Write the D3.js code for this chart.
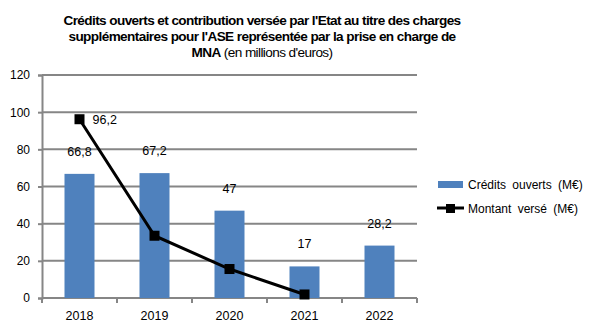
<!DOCTYPE html>
<html lang="fr">
<head>
<meta charset="UTF-8">
<script src="https://cdn.jsdelivr.net/npm/d3@7"></script>
<style>
    body { margin: 0; background: #fff; }
    svg { display: block; font-family: "Liberation Sans", Arial, sans-serif; }
</style>
</head>
<body>
<svg id="chart" width="600" height="329"></svg>
<script>
    const years = ["2018", "2019", "2020", "2021", "2022"];
    const credits = [66.8, 67.2, 47, 17, 28.2];
    const montant = [96.2, 33.5, 15.6, 1.9, null];
    const yTicks = [0, 20, 40, 60, 80, 100, 120];

    const svg = d3.select("#chart");
    const margin = { left: 42, right: 183, top: 75, bottom: 31 };
    const width = 600, height = 329;

    const x = d3.scaleBand().domain(years)
        .range([margin.left, width - margin.right]);
    const y = d3.scaleLinear().domain([0, 120])
        .range([height - margin.bottom, margin.top]);

    // title
    const title = svg.append("text")
        .attr("text-anchor", "middle")
        .attr("font-size", 13.6)
        .attr("font-weight", "bold")
        .attr("letter-spacing", -0.6);
    const titleLines = [
        "Crédits ouverts et contribution versée par l'Etat au titre des charges",
        "supplémentaires pour l'ASE représentée par la prise en charge de"
    ];
    titleLines.forEach((t, i) => {
        title.append("tspan").attr("x", 262).attr("y", 25 + i * 16).text(t);
    });
    const last = svg.append("text")
        .attr("text-anchor", "middle")
        .attr("x", 262).attr("y", 57)
        .attr("font-size", 13.6)
        .attr("letter-spacing", -0.6);
    last.append("tspan").attr("font-weight", "bold").text("MNA");
    last.append("tspan").text(" (en millions d'euros)");

    // gridlines
    svg.append("g").selectAll("line")
        .data(yTicks)
        .join("line")
        .attr("x1", margin.left).attr("x2", width - margin.right)
        .attr("y1", d => y(d)).attr("y2", d => y(d))
        .attr("stroke", "#868686")
        .attr("stroke-width", 2);

    // y axis
    const yAxis = svg.append("g")
        .attr("transform", `translate(${margin.left},0)`)
        .call(d3.axisLeft(y).tickValues(yTicks).tickSize(4).tickPadding(8));
    yAxis.select(".domain").attr("stroke", "#868686").attr("stroke-width", 2);
    yAxis.selectAll(".tick line").attr("stroke", "#868686").attr("stroke-width", 2);
    yAxis.selectAll("text").attr("font-size", 12).attr("font-family", "Liberation Sans, Arial").attr("fill", "#000");

    // x axis ticks between categories
    const xAxis = svg.append("g")
        .attr("transform", `translate(0,${y(0)})`);
    const bounds = years.map(d => x(d)).concat([x.range()[1]]);
    xAxis.selectAll("line")
        .data(bounds)
        .join("line")
        .attr("x1", d => d).attr("x2", d => d)
        .attr("y1", 0).attr("y2", 5)
        .attr("stroke", "#868686").attr("stroke-width", 2);
    xAxis.selectAll("text")
        .data(years)
        .join("text")
        .attr("x", d => x(d) + x.bandwidth() / 2)
        .attr("y", 22)
        .attr("text-anchor", "middle")
        .attr("font-size", 12.5)
        .text(d => d);

    // bars
    const barW = 30;
    svg.append("g").selectAll("rect")
        .data(credits)
        .join("rect")
        .attr("x", (d, i) => x(years[i]) + x.bandwidth() / 2 - barW / 2)
        .attr("y", d => y(d))
        .attr("width", barW)
        .attr("height", d => y(0) - y(d))
        .attr("fill", "#4f81bd");

    svg.append("g").selectAll("text")
        .data(credits)
        .join("text")
        .attr("x", (d, i) => x(years[i]) + x.bandwidth() / 2)
        .attr("y", d => y(d) - 18)
        .attr("text-anchor", "middle")
        .attr("font-size", 12.5)
        .text(d => String(d).replace(".", ","));

    // line series
    const pts = montant.map((v, i) => ({ year: years[i], v })).filter(d => d.v !== null);
    const line = d3.line()
        .x(d => x(d.year) + x.bandwidth() / 2)
        .y(d => y(d.v));
    svg.append("path")
        .datum(pts)
        .attr("d", line)
        .attr("fill", "none")
        .attr("stroke", "#000")
        .attr("stroke-width", 3);
    svg.append("g").selectAll("rect")
        .data(pts)
        .join("rect")
        .attr("x", d => x(d.year) + x.bandwidth() / 2 - 5)
        .attr("y", d => y(d.v) - 5)
        .attr("width", 10).attr("height", 10)
        .attr("fill", "#000");
    svg.append("text")
        .attr("x", x(years[0]) + x.bandwidth() / 2 + 13)
        .attr("y", y(montant[0]) + 5)
        .attr("font-size", 12.5)
        .text(String(montant[0]).replace(".", ","));

    // legend
    const lg = svg.append("g");
    lg.append("rect")
        .attr("x", 438).attr("y", 181).attr("width", 25).attr("height", 7)
        .attr("fill", "#4f81bd");
    lg.append("text")
        .attr("x", 468).attr("y", 189)
        .attr("font-size", 12).attr("word-spacing", 3)
        .text("Crédits ouverts (M€)");
    lg.append("line")
        .attr("x1", 437).attr("x2", 464).attr("y1", 208).attr("y2", 208)
        .attr("stroke", "#000").attr("stroke-width", 3);
    lg.append("rect")
        .attr("x", 446).attr("y", 204).attr("width", 9).attr("height", 9)
        .attr("fill", "#000");
    lg.append("text")
        .attr("x", 468).attr("y", 213)
        .attr("font-size", 12).attr("word-spacing", 3)
        .text("Montant versé (M€)");
</script>
</body>
</html>
